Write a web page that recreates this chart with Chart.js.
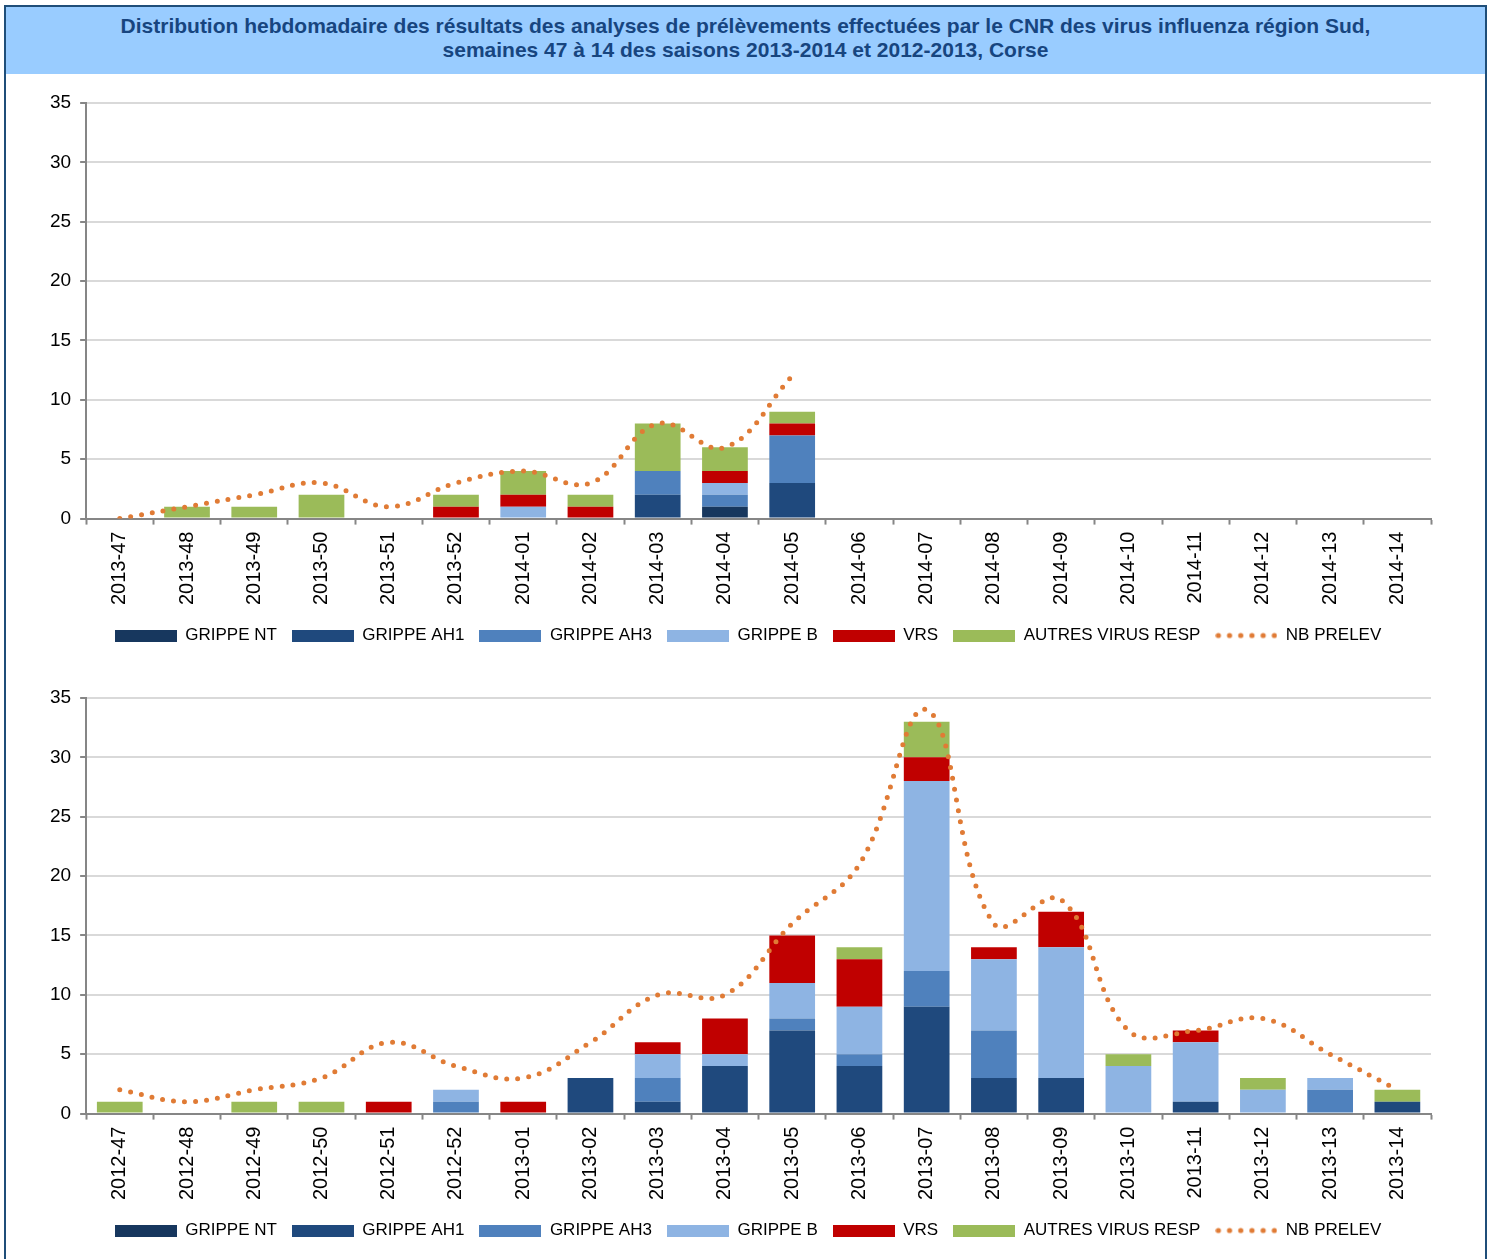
<!DOCTYPE html>
<html>
<head>
<meta charset="utf-8">
<script src="https://cdn.jsdelivr.net/npm/chart.js@4.4.1/dist/chart.umd.min.js"></script>
<style>
  html, body { margin: 0; padding: 0; background: #fff; overflow: hidden; }
  #frame {
    position: absolute; left: 4px; top: 5px; width: 1479px; height: 1270px;
    border: 2px solid #1F4E79; box-sizing: content-box;
  }
  #title {
    position: absolute; left: 0; top: 0; width: 100%; height: 67px;
    background: #99CCFF; color: #17457F;
    font: bold 21px "Liberation Sans", Arial, sans-serif;
    text-align: center; line-height: 24px; padding-top: 7px; box-sizing: border-box;
  }
  .box { position: absolute; left: 0; width: 1477px; height: 595px; }
</style>
</head>
<body>
<div id="frame">
  <div id="title">Distribution hebdomadaire des résultats des analyses de prélèvements effectuées par le CNR des virus influenza région Sud,<br>semaines 47 à 14 des saisons 2013-2014 et 2012-2013, Corse</div>
  <div class="box" style="top:68px"><canvas id="chartTop"></canvas></div>
  <div class="box" style="top:663px"><canvas id="chartBottom"></canvas></div>
</div>
<script>
// saison 2013-2014
const weeksTop = ['2013-47','2013-48','2013-49','2013-50','2013-51','2013-52','2014-01','2014-02','2014-03','2014-04',
                  '2014-05','2014-06','2014-07','2014-08','2014-09','2014-10','2014-11','2014-12','2014-13','2014-14'];
const ntTop     = [0,0,0,0,0,0,0,0,0,1, 0,0,0,0,0,0,0,0,0,0];
const ah1Top    = [0,0,0,0,0,0,0,0,2,0, 3,0,0,0,0,0,0,0,0,0];
const ah3Top    = [0,0,0,0,0,0,0,0,2,1, 4,0,0,0,0,0,0,0,0,0];
const bTop      = [0,0,0,0,0,0,1,0,0,1, 0,0,0,0,0,0,0,0,0,0];
const vrsTop    = [0,0,0,0,0,1,1,1,0,1, 1,0,0,0,0,0,0,0,0,0];
const autresTop = [0,1,1,2,0,1,2,1,4,2, 1,0,0,0,0,0,0,0,0,0];
const prelevTop = [0,1,2,3,1,3,4,3,8,6, 12,null,null,null,null,null,null,null,null,null];

// saison 2012-2013
const weeksBottom = ['2012-47','2012-48','2012-49','2012-50','2012-51','2012-52','2013-01','2013-02','2013-03','2013-04',
                     '2013-05','2013-06','2013-07','2013-08','2013-09','2013-10','2013-11','2013-12','2013-13','2013-14'];
const ntBottom     = [0,0,0,0,0,0,0,0,0,0, 0,0,0,0,0,0,0,0,0,0];
const ah1Bottom    = [0,0,0,0,0,0,0,3,1,4, 7,4,9,3,3,0,1,0,0,1];
const ah3Bottom    = [0,0,0,0,0,1,0,0,2,0, 1,1,3,4,0,0,0,0,2,0];
const bBottom      = [0,0,0,0,0,1,0,0,2,1, 3,4,16,6,11,4,5,2,1,0];
const vrsBottom    = [0,0,0,0,1,0,1,0,1,3, 4,4,2,1,3,0,1,0,0,0];
const autresBottom = [1,0,1,1,0,0,0,0,0,0, 0,1,3,0,0,1,0,1,0,1];
const prelevBottom = [2,1,2,3,6,4,3,6,10,10, 16,21,34,16,18,7,7,8,5,2];

const yTicks = [0, 5, 10, 15, 20, 25, 30, 35];

const FONT = '"Liberation Sans", Arial, sans-serif';
const COLORS = {
    nt: '#17375E', ah1: '#1F497D', ah3: '#4F81BD', b: '#8EB4E3',
    vrs: '#C00000', autres: '#9BBB59', prelev: '#E07B35'
};

// petites images pour la légende (barres pleines / ligne en pointillés)
function boxImage(color) {
    const c = document.createElement('canvas');
    c.width = 62; c.height = 12;
    const g = c.getContext('2d');
    g.fillStyle = color;
    g.fillRect(0, 0, 62, 12);
    return c;
}
function dotsImage(color) {
    const c = document.createElement('canvas');
    c.width = 62; c.height = 12;
    const g = c.getContext('2d');
    g.fillStyle = color;
    for (let i = 0; i < 6; i++) {
        g.beginPath();
        g.arc(3 + i * 11.2, 6, 2.6, 0, Math.PI * 2);
        g.fill();
    }
    return c;
}

// la légende est centrée sous la zone de tracé, pas sous tout le canvas
const legendShift = {
    id: 'legendShift',
    afterLayout(chart) {
        chart.legend.left += 12;
        chart.legend.right += 12;
    }
};

function makeChart(id, labels, nt, ah1, ah3, b, vrs, autres, prelev) {
    const bar = (label, data, color) => ({
        type: 'bar', label, data, backgroundColor: color, borderWidth: 0,
        stack: 'virus', order: 2, categoryPercentage: 1.0, barPercentage: 0.68
    });
    return new Chart(document.getElementById(id).getContext('2d'), {
        type: 'bar',
        data: {
            labels: labels,
            datasets: [
                bar('GRIPPE NT', nt, COLORS.nt),
                bar('GRIPPE AH1', ah1, COLORS.ah1),
                bar('GRIPPE AH3', ah3, COLORS.ah3),
                bar('GRIPPE B', b, COLORS.b),
                bar('VRS', vrs, COLORS.vrs),
                bar('AUTRES VIRUS RESP', autres, COLORS.autres),
                {
                    type: 'line', label: 'NB PRELEV', data: prelev,
                    borderColor: COLORS.prelev, backgroundColor: COLORS.prelev,
                    borderWidth: 5, borderDash: [0, 11], borderCapStyle: 'round',
                    pointRadius: 0, tension: 0.4, fill: false, stack: 'prelev', order: 0
                }
            ]
        },
        plugins: [legendShift],
        options: {
            responsive: true,
            maintainAspectRatio: false,
            animation: false,
            layout: { padding: { left: 35, right: 52, top: 28, bottom: 16 } },
            plugins: {
                title: { display: false },
                tooltip: { enabled: false },
                legend: {
                    position: 'bottom',
                    labels: {
                        usePointStyle: true,
                        pointStyleWidth: 62,
                        boxHeight: 12,
                        padding: 15,
                        color: '#000',
                        font: { family: FONT, size: 17 },
                        generateLabels: (chart) => chart.data.datasets.map((ds, i) => ({
                            text: ds.label,
                            datasetIndex: i,
                            fontColor: '#000',
                            hidden: false,
                            lineWidth: 0,
                            fillStyle: ds.backgroundColor,
                            strokeStyle: ds.backgroundColor,
                            pointStyle: ds.type === 'line' ? dotsImage(ds.borderColor) : boxImage(ds.backgroundColor)
                        }))
                    }
                }
            },
            scales: {
                x: {
                    stacked: true,
                    offset: true,
                    grid: { display: true, drawOnChartArea: false, offset: true, tickLength: 6, tickColor: '#868686', tickWidth: 2 },
                    border: { display: true, color: '#868686', width: 2 },
                    ticks: {
                        color: '#000', font: { family: FONT, size: 20 },
                        minRotation: 90, maxRotation: 90, autoSkip: false, padding: 7
                    }
                },
                y: {
                    stacked: true,
                    min: 0,
                    max: yTicks[yTicks.length - 1],
                    afterBuildTicks: (axis) => { axis.ticks = yTicks.map(v => ({ value: v })); },
                    grid: { color: '#D9D9D9', lineWidth: 2, tickLength: 6, tickColor: '#868686', tickWidth: 2 },
                    border: { display: true, color: '#868686', width: 2 },
                    ticks: { color: '#000', font: { family: FONT, size: 19 }, padding: 9 }
                }
            }
        }
    });
}

makeChart('chartTop', weeksTop, ntTop, ah1Top, ah3Top, bTop, vrsTop, autresTop, prelevTop);
makeChart('chartBottom', weeksBottom, ntBottom, ah1Bottom, ah3Bottom, bBottom, vrsBottom, autresBottom, prelevBottom);
</script>
</body>
</html>
